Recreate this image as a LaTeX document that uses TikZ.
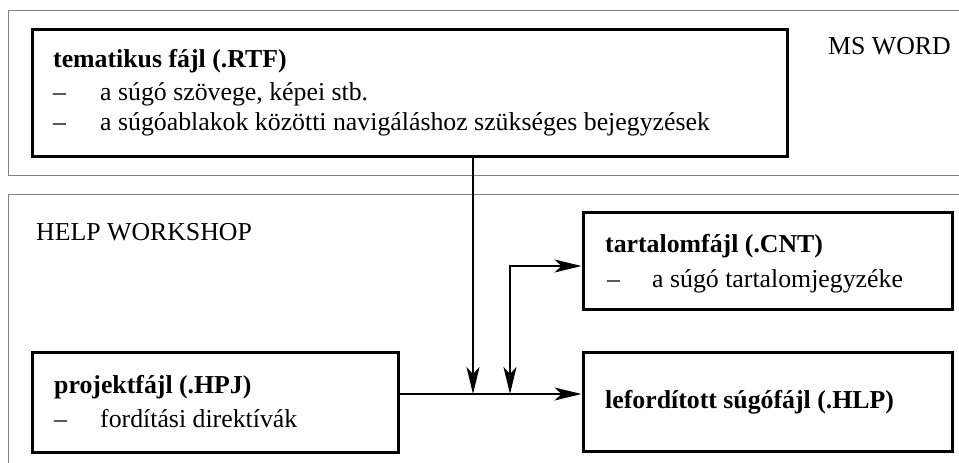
\documentclass[tikz,border=0pt]{standalone}
\usepackage{fontspec}
\setmainfont{Liberation Serif}
\usetikzlibrary{arrows.meta}
\begin{document}
\begin{tikzpicture}[x=1pt,y=-1pt,
  frame/.style={draw=black!50, line width=1pt},
  filebox/.style={draw=black, line width=3pt, rectangle, inner sep=0pt},
  txt/.style={anchor=base west, inner sep=0pt, font=\fontsize{25.8}{31}\selectfont},
  ttl/.style={txt, font=\fontsize{25.8}{31}\selectfont\bfseries},
  tip/.tip={Stealth[length=27pt,width=13pt,inset=7pt]},
  flow/.style={draw=black, line width=2pt, -tip},
  flowboth/.style={draw=black, line width=2pt, tip-tip}
]
\useasboundingbox (0,0) rectangle (959,463);

% application regions
\draw[frame] (966,10) -- (8,10) -- (8,175) -- (966,175);
\draw[frame] (966,194) -- (8,194) -- (8,470);
\node[txt] (word) at (828,54) {MS WORD};
\node[txt] (hw) at (36,240) {HELP WORKSHOP};

% file boxes
\node[filebox, minimum width=755pt, minimum height=127pt] (rtf) at (409.5,92.5) {};
\node[filebox, minimum width=366pt, minimum height=100pt] (hpj) at (215,402) {};
\node[filebox, minimum width=369pt, minimum height=97pt] (cnt) at (767.5,260.5) {};
\node[filebox, minimum width=369pt, minimum height=99pt] (hlp) at (767.5,401.5) {};

% box contents
\node[ttl] (rtfT) at (53,67) {tematikus fájl (.RTF)};
\node[txt] (rtfD1) at (53,100) {–};
\node[txt] (rtfL1) at (100,100) {a súgó szövege, képei stb.};
\node[txt] (rtfD2) at (53,130) {–};
\node[txt] (rtfL2) at (100,130) {a súgóablakok közötti navigáláshoz szükséges bejegyzések};

\node[ttl] (hpjT) at (54,393) {projektfájl (.HPJ)};
\node[txt] (hpjD) at (54,427) {–};
\node[txt] (hpjL) at (100,427) {fordítási direktívák};

\node[ttl] (cntT) at (605,252) {tartalomfájl (.CNT)};
\node[txt] (cntD) at (607,287) {–};
\node[txt] (cntL) at (652,287) {a súgó tartalomjegyzéke};

\node[ttl] (hlpT) at (605,408) {lefordított súgófájl (.HLP)};

% junctions
\coordinate (j1) at (473,394);
\coordinate (j2) at (510,394);
\coordinate (c1) at (510,266);

% connectors
\draw[flow] (rtf.south -| j1) -- (j1);
\draw[flow] (hpj.east |- j1) -- (hlp.west |- j1);
\draw[flowboth] (j2) -- (c1) -- (cnt.west |- c1);
\end{tikzpicture}
\end{document}
